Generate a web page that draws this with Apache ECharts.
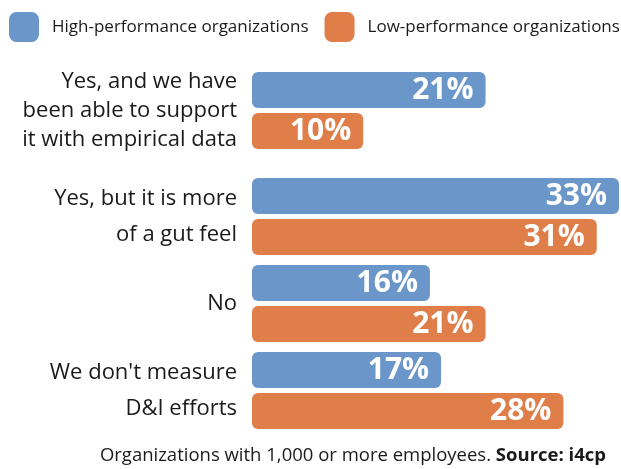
<!DOCTYPE html>
<html>
<head>
<meta charset="utf-8">
<script src="https://cdn.jsdelivr.net/npm/echarts@6/dist/echarts.min.js"></script>
<style>
  html, body { margin: 0; padding: 0; background: #fff; }
  #chart { width: 621px; height: 469px; }
</style>
</head>
<body>
<div id="chart"></div>
<script>
const categories = [
  'Yes, and we have\nbeen able to support\nit with empirical data',
  'Yes, but it is more\nof a gut feel',
  'No',
  "We don't measure\nD&I efforts"
];
const highPerf = [21, 33, 16, 17];
const lowPerf = [10, 31, 21, 28];
const seriesNames = ['High-performance organizations', 'Low-performance organizations'];

const blue = '#6a96c9';
const orange = '#df7e48';
const font = 'Open Sans';

const chart = echarts.init(document.getElementById('chart'));

function yAxisFor(gridIndex, cats, lineHeight) {
  return {
    type: 'category',
    gridIndex: gridIndex,
    data: cats,
    inverse: true,
    axisLine: { show: false },
    axisTick: { show: false },
    axisLabel: {
      color: '#1a1a1a',
      fontFamily: font,
      fontSize: 22,
      lineHeight: lineHeight,
      align: 'right',
      margin: 15
    }
  };
}

function xAxisFor(gridIndex) {
  return {
    type: 'value',
    gridIndex: gridIndex,
    min: 0,
    max: 33,
    show: false
  };
}

function barSeries(name, color, data, idx) {
  return {
    name: name,
    type: 'bar',
    xAxisIndex: idx,
    yAxisIndex: idx,
    data: data,
    barWidth: 36,
    barGap: '14%',
    itemStyle: { color: color, borderRadius: 6 },
    label: {
      show: true,
      position: 'insideRight',
      distance: 12,
      formatter: '{c}%',
      color: '#fff',
      fontFamily: font,
      fontWeight: 'bold',
      fontSize: 30
    }
  };
}

const option = {
  animation: false,
  legend: {
    left: 9,
    top: 12,
    padding: 0,
    width: 640,
    itemWidth: 30,
    itemHeight: 30,
    itemGap: 16,
    icon: 'roundRect',
    data: seriesNames,
    textStyle: {
      fontFamily: font,
      fontSize: 17,
      color: '#1a1a1a',
      padding: [0, 0, 0, 8]
    }
  },
  grid: [
    { left: 252, right: 2, top: 67, height: 87 },
    { left: 252, right: 2, top: 173, height: 261 }
  ],
  xAxis: [xAxisFor(0), xAxisFor(1)],
  yAxis: [
    yAxisFor(0, categories.slice(0, 1), 29),
    yAxisFor(1, categories.slice(1), 36)
  ],
  series: [
    barSeries(seriesNames[0], blue, highPerf.slice(0, 1), 0),
    barSeries(seriesNames[1], orange, lowPerf.slice(0, 1), 0),
    barSeries(seriesNames[0], blue, highPerf.slice(1), 1),
    barSeries(seriesNames[1], orange, lowPerf.slice(1), 1)
  ],
  graphic: [
    {
      type: 'text',
      right: 15,
      top: 446,
      style: {
        text: 'Organizations with 1,000 or more employees. {b|Source: i4cp}',
        fontFamily: font,
        fontSize: 18.5,
        fill: '#1a1a1a',
        rich: {
          b: { fontFamily: font, fontSize: 18.5, fontWeight: 'bold', fill: '#1a1a1a' }
        }
      }
    }
  ]
};

chart.setOption(option);
</script>
</body>
</html>
